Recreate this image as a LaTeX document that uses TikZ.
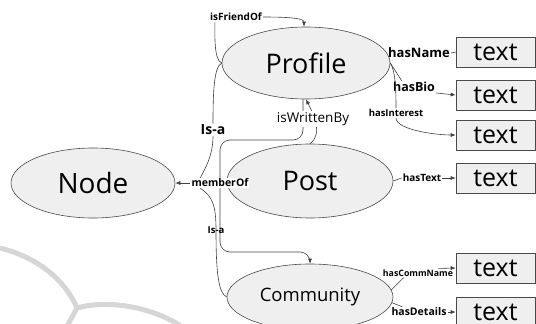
\documentclass[tikz,border=0pt]{standalone}
\usepackage{fontspec}
\setmainfont{Open Sans}
\usetikzlibrary{shapes.geometric,arrows.meta}

\tikzset{
  concept/.style={ellipse,draw=linegray,fill=fillgray,inner sep=0pt,line width=0.6pt},
  valuebox/.style={rectangle,draw=linegray,fill=fillgray,minimum width=79pt,minimum height=30pt,
    inner sep=0pt,line width=0.6pt,font=\fontsize{25}{25}\selectfont},
  rel/.style={draw=edgegray,line width=0.6pt},
  relarrow/.style={rel,-{Latex[length=5pt,width=4pt]}},
  rellabel/.style={inner sep=1pt,font=\bfseries\fontsize{#1}{#1}\selectfont},
  plainlabel/.style={inner sep=1pt,font=\fontsize{#1}{#1}\selectfont}
}

\begin{document}
\begin{tikzpicture}[x=1pt,y=-1pt]
	\definecolor{linegray}{HTML}{4A4A4A}
	\definecolor{fillgray}{HTML}{EFEFEF}
	\definecolor{edgegray}{HTML}{404040}
	\definecolor{markgray}{HTML}{D6D6D6}

	\useasboundingbox (0,0) rectangle (536,324);
	\clip (0,0) rectangle (536,324);

	% watermark
	\draw[markgray,line width=5pt] (0,248) .. controls (40,258) and (66,282) .. (77,308);
	\draw[markgray,line width=5pt] (66,328) -- (77,308) .. controls (105,300) and (150,305) .. (184,328);

	% concepts
	\node[concept,minimum width=164pt,minimum height=70pt,font=\fontsize{28}{28}\selectfont] (node) at (93,183) {Node};
	\node[concept,minimum width=168pt,minimum height=72pt,font=\fontsize{27}{27}\selectfont] (profile) at (306,63) {Profile};
	\node[concept,minimum width=166pt,minimum height=74pt,font=\fontsize{27}{27}\selectfont] (post) at (310,181) {Post};
	\node[concept,minimum width=166pt,minimum height=66pt,font=\fontsize{18.5}{18.5}\selectfont] (community) at (310,297) {Community};

	% values
	\node[valuebox] (namebox) at (495.5,52) {text};
	\node[valuebox] (biobox) at (495.5,95) {text};
	\node[valuebox] (interestbox) at (495.5,135) {text};
	\node[valuebox] (textbox) at (495.5,178) {text};
	\node[valuebox] (commbox) at (495.5,268) {text};
	\node[valuebox] (detailsbox) at (495.5,312) {text};

	% links that run behind labels
	\draw[relarrow] (post.north) .. controls +(14,-10) and +(6,12) .. (profile.south);
	\draw[relarrow,rounded corners=10pt] ([xshift=-3pt]profile.south) -- (303,140) -- (220,140) -- (220,252) -- (310,252) -- (community.north);

	% labels
	\node[plainlabel=13.5,fill=white] (writtenlbl) at (313,119) {isWrittenBy};
	\node[rellabel=10.5,fill=white] (memberlbl) at (220,183) {memberOf};
	\node[rellabel=14,fill=white] (isauplbl) at (213,130) {Is-a};
	\node[rellabel=9.5] (isalowlbl) at (216,230) {Is-a};
	\node[rellabel=10] (friendlbl) at (236,17) {isFriendOf};
	\node[rellabel=13] (namelbl) at (419,53) {hasName};
	\node[rellabel=12.5] (biolbl) at (414,87) {hasBio};
	\node[rellabel=9.5] (interestlbl) at (396,113) {hasInterest};
	\node[rellabel=10] (textlbl) at (422,178) {hasText};
	\node[rellabel=8.8] (commlbl) at (418,273) {hasCommName};
	\node[rellabel=10.5] (detailslbl) at (419,312) {hasDetails};

	% left side links
	\draw[rel] (profile.west) .. controls +(-8,-3) and +(0,12) .. ([xshift=6pt]friendlbl.south west);
	\draw[relarrow] (friendlbl.east) .. controls +(30,0) and +(0,-8) .. ([xshift=-2pt]profile.north);
	\draw[rel] (profile.west) .. controls +(-8,4) and +(0,-30) .. (isauplbl.north);
	\draw[rel] (isauplbl.south) .. controls +(0,20) and +(4,-8) .. ([xshift=10pt]memberlbl.north west);
	\draw[rel] ([xshift=10pt]memberlbl.south west) .. controls +(12,8) and +(0,-25) .. (isalowlbl.center)
		.. controls +(0,45) and +(-8,-4) .. (community.west);
	\draw[relarrow] (memberlbl.west) -- (node.east);

	% right side links
	\draw[rel] (namelbl.east) -- (namebox.west);
	\draw[rel] (profile.east) -- ([xshift=10pt]biolbl.north west);
	\draw[relarrow] (biolbl.south east) -- (biobox.west);
	\draw[rel] (profile.east) .. controls +(5,8) and +(0,-20) .. (interestlbl.north);
	\draw[relarrow] (interestlbl.south) .. controls +(0,12) and +(-20,0) .. (interestbox.west);
	\draw[rel] (post.east) -- (textlbl.west);
	\draw[relarrow] (textlbl.east) -- (textbox.west);
	\draw[rel] (community.5) -- ([xshift=22pt]commlbl.south west);
	\draw[relarrow] ([xshift=-16pt]commlbl.north east) -- (commbox.west);
	\draw[rel] (community.-4) -- ([xshift=12pt]detailslbl.north west);
	\draw[relarrow] (detailslbl.east) -- (detailsbox.west);
\end{tikzpicture}
\end{document}
